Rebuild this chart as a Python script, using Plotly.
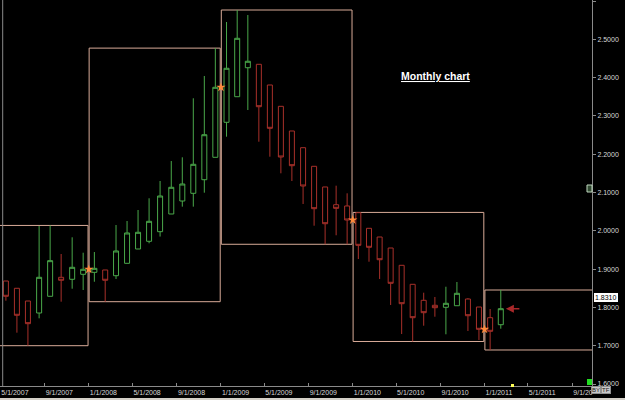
import plotly.graph_objects as go

# ---- data ----
months = ["2007-05", "2007-06", "2007-07", "2007-08", "2007-09", "2007-10", "2007-11", "2007-12",
          "2008-01", "2008-02", "2008-03", "2008-04", "2008-05", "2008-06", "2008-07", "2008-08",
          "2008-09", "2008-10", "2008-11", "2008-12",
          "2009-01", "2009-02", "2009-03", "2009-04", "2009-05", "2009-06", "2009-07", "2009-08",
          "2009-09", "2009-10", "2009-11", "2009-12",
          "2010-01", "2010-02", "2010-03", "2010-04", "2010-05", "2010-06", "2010-07", "2010-08",
          "2010-09", "2010-10", "2010-11", "2010-12",
          "2011-01", "2011-02"]
open_ = [1.8689, 1.8499, 1.8167, 1.7854, 1.8290, 1.8786, 1.8734, 1.8864,
         1.8916, 1.8977, 1.8828, 1.9151, 1.9525, 1.9726, 1.9977, 2.0439,
         2.0778, 2.0979, 2.1334, 2.1919,
         2.2833, 2.3501, 2.4258, 2.4347, 2.3807, 2.3250, 2.2606, 2.2170,
         2.1684, 2.1144, 2.0681, 2.0648,
         2.0473, 2.0065, 1.9838, 1.9551, 1.9099, 1.8603, 1.8185, 1.8055,
         1.8003, 1.8044, 1.8219, 1.8010,
         1.7731, 1.7548]
high = [1.8689, 1.8499, 1.8167, 2.0125, 2.0140, 1.9394, 1.9830, 1.9428,
        1.9446, 1.8977, 2.0151, 2.0256, 2.0543, 2.0849, 2.1300, 2.1822,
        2.1919, 2.3460, 2.4042, 2.4770,
        2.5452, 2.5765, 2.5634, 2.4347, 2.3807, 2.3250, 2.2606, 2.2170,
        2.1684, 2.1144, 2.1178, 2.0979,
        2.0480, 2.0065, 1.9838, 1.9551, 1.9099, 1.8603, 1.8384, 1.8272,
        1.8540, 1.8663, 1.8240, 1.8010,
        1.7958, 1.8454]
low = [1.8175, 1.7340, 1.7000, 1.7715, 1.8290, 1.8149, 1.8488, 1.8454,
       1.8670, 1.8149, 1.8742, 1.9151, 1.9525, 1.9674, 1.9850, 2.0439,
       2.0630, 2.0630, 2.0995, 2.1919,
       2.2457, 2.3501, 2.3154, 2.2326, 2.1935, 2.1501, 2.1300, 2.0700,
       2.0133, 1.9648, 1.9883, 1.9648,
       1.9264, 1.9193, 1.8742, 1.8063, 1.7305, 1.7110, 1.7522, 1.7757,
       1.7298, 1.8044, 1.7384, 1.7149,
       1.6888, 1.7444]
close = [1.8290, 1.7794, 1.7575, 1.8786, 1.9220, 1.8708, 1.9047, 1.8995,
         1.9020, 1.8708, 1.9473, 1.9943, 1.9961, 2.0248, 2.0909, 2.1136,
         2.1222, 2.1736, 2.2509, 2.3747,
         2.4243, 2.5026, 2.4426, 2.3240, 2.2676, 2.1927, 2.1700, 2.1170,
         2.0577, 2.0185, 2.0587, 2.0282,
         1.9621, 1.9569, 1.9245, 1.8629, 1.8097, 1.7731, 1.7862, 1.7992,
         1.8107, 1.8368, 1.7783, 1.7428,
         1.7376, 1.7966]
years = ["2007", "2008", "2009", "2010", "2011"]
x_tick_dates = ["2007-05-01", "2007-09-01", "2008-01-01", "2008-05-01", "2008-09-01",
                "2009-01-01", "2009-05-01", "2009-09-01", "2010-01-01", "2010-05-01",
                "2010-09-01", "2011-01-01", "2011-05-01", "2011-09-01"]
x_tick_text = ["5/1/2007", "9/1/2007", "1/1/2008", "5/1/2008", "9/1/2008",
               "1/1/2009", "5/1/2009", "9/1/2009", "1/1/2010", "5/1/2010",
               "9/1/2010", "1/1/2011", "5/1/2011", "9/1/20"]
last_price = 1.8310
title_text = "Monthly chart"

# ---- styling ----
BG = "#000000"
GREEN = "#4aa84a"
RED = "#a8302a"
BOX = "#d9ab98"
AXIS = "#8a8a8a"
TXT = "#d8d8d8"

fig = go.Figure()
fig.add_trace(go.Candlestick(
    x=months, open=open_, high=high, low=low, close=close,
    xperiod="M1", xperiodalignment="middle",
    increasing=dict(line=dict(color=GREEN, width=1), fillcolor=BG),
    decreasing=dict(line=dict(color=RED, width=1), fillcolor=BG),
    whiskerwidth=0, showlegend=False, hoverinfo="skip"))

# yearly high/low boxes and year-open stars
star_x, star_y = [], []
for k, yr in enumerate(years):
    idx = [i for i, m in enumerate(months) if m.startswith(yr)]
    hi = max(high[i] for i in idx)
    lo = min(low[i] for i in idx)
    x0 = f"{int(yr) - 1}-07-01" if k == 0 else f"{yr}-01-02"
    x1 = f"{int(yr) + 1}-06-01" if k == len(years) - 1 else f"{yr}-12-30"
    fig.add_shape(type="rect", xref="x", yref="y", x0=x0, x1=x1, y0=lo, y1=hi,
                  line=dict(color=BOX, width=1), fillcolor="rgba(0,0,0,0)", layer="below")
    if k > 0:
        prev = [i for i, m in enumerate(months) if m.startswith(years[k - 1])]
        star_x.append(f"{yr}-01-01")
        star_y.append(close[prev[-1]])

fig.add_trace(go.Scatter(x=star_x, y=star_y, mode="markers",
                         marker=dict(symbol="star", size=7, color="#ff8a3c",
                                     line=dict(width=0)),
                         showlegend=False, hoverinfo="skip"))

# arrow pointing at last close
fig.add_annotation(x="2011-03-01", y=close[-1], xref="x", yref="y", text="",
                   showarrow=True, ax=15, ay=0, arrowhead=2, arrowsize=1,
                   arrowwidth=1.6, arrowcolor="#a8282a")

# title
fig.add_annotation(x=435 / 592, y=1 - 76 / 386, xref="paper", yref="paper",
                   xanchor="center", yanchor="middle",
                   text="<b><u>" + title_text + "</u></b>", showarrow=False,
                   font=dict(family="Liberation Sans", size=10.5, color="#ffffff"))

# last price label
fig.add_annotation(x=1.0, y=last_price, xref="paper", yref="y", xanchor="left",
                   xshift=2, yshift=-2, text=f"{last_price:.4f}", showarrow=False,
                   font=dict(family="Liberation Sans", size=7, color="#000000"),
                   bgcolor="#ffffff", bordercolor="#ffffff", borderpad=0)

# BY / TF buttons
for txt, px in [("BY", 600.5 / 592), ("TF", 610.5 / 592)]:
    fig.add_annotation(x=px, y=1 - 394 / 386, xref="paper", yref="paper", text=txt,
                       showarrow=False,
                       font=dict(family="Liberation Sans", size=6, color="#202020"),
                       bgcolor="#c8c8c8", bordercolor="#909090", borderpad=0)

# misc decorations
W, H = 592.0, 386.0
deco = [
    # left vertical border line
    dict(type="line", x0=2.7 / W, x1=2.7 / W, y0=0, y1=1, line=dict(color=AXIS, width=1)),
    # small icon on the right axis
    dict(type="rect", x0=587 / W, x1=592 / W, y0=1 - 192 / H, y1=1 - 185 / H,
         line=dict(color="#c0d8c0", width=1), fillcolor="#304830"),
    # green square
    dict(type="rect", x0=587 / W, x1=592 / W, y0=1 - 385 / H, y1=1 - 379 / H,
         line=dict(width=0), fillcolor="#22dd22"),
    # yellow marker on time axis
    dict(type="rect", x0=511 / W, x1=514 / W, y0=1 - 387 / H, y1=1 - 384 / H,
         line=dict(width=0), fillcolor="#ffff55"),
    # scrollbar strip
    dict(type="rect", x0=0, x1=625 / W, y0=1 - 400 / H, y1=1 - 398 / H,
         line=dict(width=0), fillcolor="#d4d0c8"),
]
for d in deco:
    fig.add_shape(xref="paper", yref="paper", layer="above", **d)

fig.update_layout(
    width=625, height=400,
    margin=dict(l=0, r=33, t=0, b=14, pad=0),
    paper_bgcolor=BG, plot_bgcolor=BG,
    font=dict(family="Liberation Sans", size=7, color=TXT),
    boxgap=0.33,
    xaxis=dict(type="date", range=["2007-04-30 04:00", "2011-10-25 14:00"],
               rangeslider=dict(visible=False),
               tickmode="array", tickvals=x_tick_dates, ticktext=x_tick_text,
               ticks="inside", ticklen=3, tickcolor=AXIS,
               ticklabelposition="outside right",
               showgrid=False, zeroline=False,
               showline=True, linecolor=AXIS, linewidth=1,
               tickfont=dict(size=7, color=TXT)),
    yaxis=dict(side="right", range=[1.59478, 2.60261],
               tick0=1.6, dtick=0.1, tickformat=".4f",
               ticks="outside", ticklen=3, tickcolor=AXIS,
               showgrid=False, zeroline=False,
               showline=True, linecolor=AXIS, linewidth=1,
               tickfont=dict(size=7, color=TXT)),
)

fig.write_html("out.html")
